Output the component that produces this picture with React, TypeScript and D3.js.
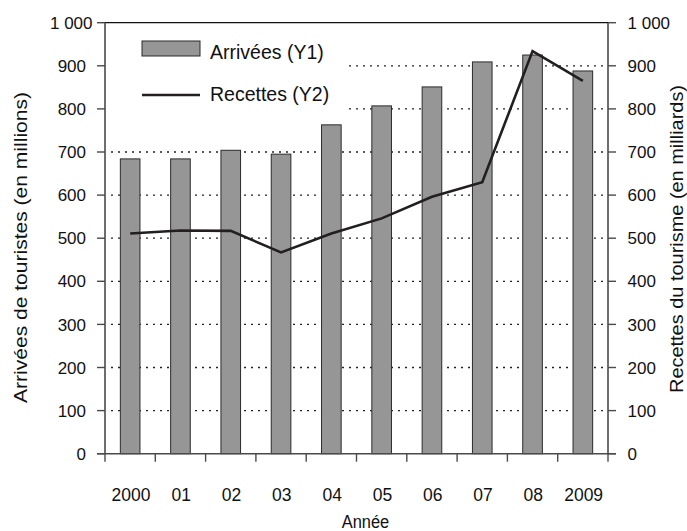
import React from "react";
import * as d3 from "d3";

// Tourism: international arrivals (bars, left axis) and receipts (line, right axis)
const years = ["2000", "01", "02", "03", "04", "05", "06", "07", "08", "2009"];
const arrivals = [684, 684, 704, 695, 763, 807, 851, 909, 925, 888];
const receipts = [511, 518, 517, 467, 511, 546, 596, 630, 934, 865];
const yTicks = [0, 100, 200, 300, 400, 500, 600, 700, 800, 900, 1000];
const gridValues = [100, 200, 300, 400, 500, 600, 700, 800, 900];

const W = 687;
const H = 531;
const M = { left: 105, right: 608, top: 22.7, bottom: 453.7 };
const FONT = "'Liberation Sans', Arial, sans-serif";
const BAR_FILL = "#969696";
const INK = "#231f20";
const AXIS = "#4a4a4a";

const fmt = (v: number) => (v >= 1000 ? d3.format(",")(v).replace(",", " ") : String(v));

export default function App() {
  const x = d3.scaleBand<string>().domain(years).range([M.left, M.right]).padding(0);
  const y1 = d3.scaleLinear().domain([0, 1000]).range([M.bottom, M.top]);
  const y2 = d3.scaleLinear().domain([0, 1000]).range([M.bottom, M.top]);
  const step = x.step();
  const barW = step * 0.39;
  const cx = (d: string) => (x(d) as number) + step / 2;

  const line = d3
    .line<number>()
    .x((_, i) => cx(years[i]))
    .y((d) => y2(d));

  const boundaries = d3.range(years.length + 1).map((i) => M.left + i * step);

  return (
    <svg
      width={W}
      height={H}
      style={{ position: "absolute", left: 0, top: 0, background: "#fff" }}
      fontFamily={FONT}
    >
      <rect width={W} height={H} fill="#fff" />

      {/* dotted gridlines */}
      {gridValues.map((v) => (
        <line
          key={v}
          x1={M.left + 6}
          x2={M.right}
          y1={y1(v)}
          y2={y1(v)}
          stroke="#222"
          strokeWidth={1.3}
          strokeDasharray="2,5"
        />
      ))}

      {/* bars */}
      {arrivals.map((v, i) => (
        <rect
          key={years[i]}
          x={cx(years[i]) - barW / 2}
          y={y1(v)}
          width={barW}
          height={y1(0) - y1(v)}
          fill={BAR_FILL}
          stroke="#2b2b2b"
          strokeWidth={1}
        />
      ))}

      {/* frame and axes */}
      <line x1={M.left} x2={M.right} y1={M.top} y2={M.top} stroke="#111" strokeWidth={1.3} />
      <line x1={M.left} x2={M.left} y1={M.top} y2={M.bottom} stroke={AXIS} strokeWidth={1.6} />
      <line x1={M.right} x2={M.right} y1={M.top} y2={M.bottom} stroke={AXIS} strokeWidth={1.6} />
      <line x1={M.left - 8} x2={M.right + 8} y1={M.bottom} y2={M.bottom} stroke={AXIS} strokeWidth={1.6} />

      {/* left ticks and labels */}
      {yTicks.map((v) => (
        <g key={"l" + v}>
          <line x1={M.left - 8} x2={M.left} y1={y1(v)} y2={y1(v)} stroke={AXIS} strokeWidth={1.4} />
          <text
            x={v >= 1000 ? 92.5 : 86}
            y={y1(v)}
            dy="0.36em"
            textAnchor="end"
            fontSize={17}
            fill="#111"
          >
            {fmt(v)}
          </text>
        </g>
      ))}

      {/* right ticks and labels */}
      {yTicks.map((v) => (
        <g key={"r" + v}>
          <line x1={M.right} x2={M.right + 8} y1={y2(v)} y2={y2(v)} stroke={AXIS} strokeWidth={1.4} />
          <text x={627.5} y={y2(v)} dy="0.36em" textAnchor="start" fontSize={17} fill="#111">
            {fmt(v)}
          </text>
        </g>
      ))}

      {/* category ticks and labels */}
      {boundaries.map((bx, i) => (
        <line key={"t" + i} x1={bx} x2={bx} y1={M.bottom} y2={M.bottom + 8} stroke={AXIS} strokeWidth={1.4} />
      ))}
      {years.map((d) => (
        <text key={"x" + d} x={cx(d) + 0.8} y={501} textAnchor="middle" fontSize={17.5} fill="#111">
          {d}
        </text>
      ))}

      {/* receipts line */}
      <path d={line(receipts) as string} fill="none" stroke={INK} strokeWidth={2.6} strokeLinejoin="miter" />

      {/* axis titles */}
      <text
        x={365.5}
        y={527.5}
        textAnchor="middle"
        fontSize={18}
        textLength={47.5}
        lengthAdjust="spacingAndGlyphs"
        fill="#111"
      >
        Année
      </text>
      <text
        transform="translate(26.5,247.5) rotate(-90)"
        textAnchor="middle"
        fontSize={18}
        textLength={311}
        lengthAdjust="spacingAndGlyphs"
        fill="#111"
      >
        Arrivées de touristes (en millions)
      </text>
      <text
        transform="translate(683,239) rotate(-90)"
        textAnchor="middle"
        fontSize={18}
        textLength={308}
        lengthAdjust="spacingAndGlyphs"
        fill="#111"
      >
        Recettes du tourisme (en milliards)
      </text>

      {/* legend */}
      <g>
        <rect x={111} y={28} width={238} height={92} fill="#fff" />
        <rect x={142} y={41} width={58} height={15} fill={BAR_FILL} stroke="#2b2b2b" strokeWidth={1} />
        <text x={210} y={59} fontSize={19.5} fill="#111">
          Arrivées (Y1)
        </text>
        <line x1={142} x2={200} y1={95} y2={95} stroke={INK} strokeWidth={2.6} />
        <text x={210} y={100.5} fontSize={19.5} fill="#111">
          Recettes (Y2)
        </text>
      </g>
    </svg>
  );
}
